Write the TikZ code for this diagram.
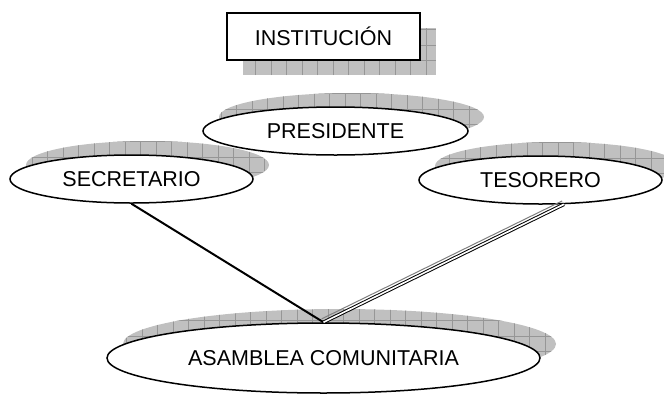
\documentclass[tikz,border=0pt]{standalone}
\usepackage{fontspec}
\setmainfont{Liberation Sans}
\usetikzlibrary{shapes.geometric, shadows}

\definecolor{grisSombra}{RGB}{192,192,192}
\definecolor{grisLinea}{RGB}{150,150,150}

\tikzset{
    cuadricula/.style={path picture={\draw[grisLinea, line width=0.6pt] (path picture bounding box.south west) grid[step=15.5pt] (path picture bounding box.north east);}},
    sombra/.style 2 args={general shadow={fill=grisSombra, shadow xshift=#1, shadow yshift=#2, cuadricula}},
    letra/.style={font=\fontsize{21.5}{25}\selectfont},
    caja/.style={draw, line width=1.5pt, fill=white, inner sep=0pt, letra, sombra={16pt}{-15pt}},
    cargo/.style={draw, ellipse, line width=1.5pt, fill=white, inner sep=0pt, letra, sombra={16pt}{14pt}},
}

\begin{document}
\begin{tikzpicture}[x=1pt, y=-1pt]
    \useasboundingbox (0,0) rectangle (664,394);
%%%%%%%%%%%%%%%%%%%%%%%%%%%%%%%%%%%%%%%%%%
    \node[caja, minimum width=193pt, minimum height=47pt] (inst) at (323.5,36.5) {INSTITUCIÓN};
    \node[cargo, minimum width=265pt, minimum height=48pt] (pres) at (335.5,131) {PRESIDENTE};
    \node[cargo, minimum width=243pt, minimum height=48pt] (sec) at (131.5,179) {SECRETARIO};
    \node[cargo, minimum width=243pt, minimum height=48pt] (tes) at (540.5,180) {TESORERO};
    \node[cargo, minimum width=433pt, minimum height=70pt] (asa) at (323.5,358) {ASAMBLEA COMUNITARIA};
%%%%%%%%%%%%%%%%%%%%%%%%%%%%%%%%%%%%%%%%%%
    \draw[line width=2pt] (sec.south) -- (asa.north);
    \draw[gray, line width=1pt, transform canvas={shift={(-1.8pt,3.4pt)}}] (tes.-46) -- (asa.north);
    \draw[line width=1pt, double=white, double distance=1.6pt] (tes.-46) -- (asa.north);
\end{tikzpicture}
\end{document}
